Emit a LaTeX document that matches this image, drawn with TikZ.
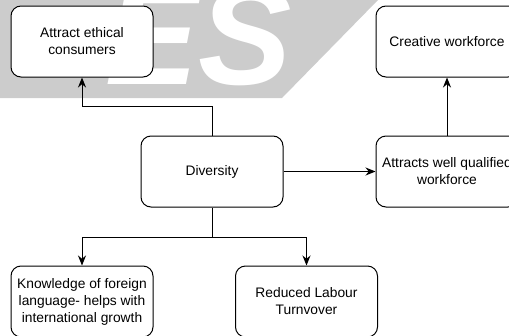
\documentclass[tikz,border=0pt]{standalone}
\usepackage{fontspec}
\setmainfont{Liberation Sans}
\usetikzlibrary{arrows.meta}
\begin{document}
\begin{tikzpicture}[x=1pt,y=-1pt,
    blk/.style={draw, line width=1pt, rounded corners=10pt, minimum width=142pt,
      minimum height=71pt, align=center, fill=white, inner sep=0pt,
      font=\fontsize{13.8}{17}\selectfont},
    conn/.style={-{Stealth[length=10pt,width=8pt]}, line width=1pt}]
  \useasboundingbox (0,0) rectangle (509,335);
  % watermark
  \fill[black!20] (0,0) -- (378,0) -- (282,98) -- (0,98) -- cycle;
  \node[anchor=base east, white, inner sep=0pt,
    font=\fontsize{140}{140}\bfseries\itshape\selectfont] (mark) at (292,84) {ES};
  % boxes
  \node[blk] (eth) at (82,41.5) {Attract ethical\\consumers};
  \node[blk] (cre) at (447,41.5) {Creative workforce};
  \node[blk] (div) at (212,171.5) {Diversity};
  \node[blk] (att) at (447,171.5) {Attracts well qualified\\workforce};
  \node[blk] (know) at (82,301.5) {Knowledge of foreign\\language- helps with\\international growth};
  \node[blk] (red) at (306.5,301.5) {Reduced Labour\\Turnvover};
  % arrows
  \draw[conn] (div.north) -- ++(0,-29) -| (eth.south);
  \draw[conn] (div.east) -- (att.west);
  \draw[conn] (att.north) -- (cre.south);
  \draw[conn] (div.south) -- ++(0,30) -| (know.north);
  \draw[conn] (div.south) -- ++(0,30) -| (red.north);
\end{tikzpicture}
\end{document}
